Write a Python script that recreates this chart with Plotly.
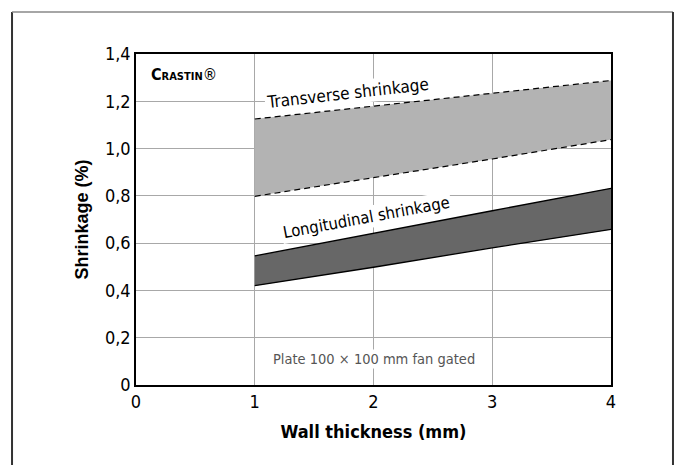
"""
Shrinkage of CRASTIN vs wall thickness, redrawn with Plotly.
"""

import plotly.graph_objects as go

# Data
thickness = [1, 2, 3, 4]
transverse_upper = [1.125, 1.181, 1.234, 1.288]
transverse_lower = [0.798, 0.876, 0.956, 1.038]
longitudinal_upper = [0.546, 0.643, 0.737, 0.832]
longitudinal_lower = [0.420, 0.498, 0.580, 0.658]

x_ticks = [0, 1, 2, 3, 4]
x_tick_labels = ['0', '1', '2', '3', '4']
y_ticks = [0, 0.2, 0.4, 0.6, 0.8, 1.0, 1.2, 1.4]
y_tick_labels = ['0', '0,2', '0,4', '0,6', '0,8', '1,0', '1,2', '1,4']

NARROW = 'DejaVu Sans Condensed, Liberation Sans Narrow, Arial Narrow, sans-serif'
SANS = 'Liberation Sans, Arial, sans-serif'

fig = go.Figure()

# Transverse band (light gray, dashed edges)
fig.add_trace(go.Scatter(
    x=thickness, y=transverse_lower, mode='lines',
    line=dict(color='black', width=1.2, dash='6px,4px'),
    hoverinfo='skip', showlegend=False,
))
fig.add_trace(go.Scatter(
    x=thickness, y=transverse_upper, mode='lines',
    line=dict(color='black', width=1.2, dash='6px,4px'),
    fill='tonexty', fillcolor='#b3b3b3',
    hoverinfo='skip', showlegend=False,
))

# Longitudinal band (dark gray, solid edges)
fig.add_trace(go.Scatter(
    x=thickness, y=longitudinal_lower, mode='lines',
    line=dict(color='black', width=1.3),
    hoverinfo='skip', showlegend=False,
))
fig.add_trace(go.Scatter(
    x=thickness, y=longitudinal_upper, mode='lines',
    line=dict(color='black', width=1.3),
    fill='tonexty', fillcolor='#676767',
    hoverinfo='skip', showlegend=False,
))

# Labels inside the plot
fig.add_annotation(
    x=1.78, y=1.236, xref='x', yref='y',
    text='Transverse shrinkage', textangle=-6.5, showarrow=False,
    font=dict(family=NARROW, size=17, color='black'),
    bgcolor='white', borderpad=1,
)
fig.add_annotation(
    x=1.94, y=0.707, xref='x', yref='y',
    text='Longitudinal shrinkage', textangle=-10.5, showarrow=False,
    font=dict(family=NARROW, size=16.5, color='black'),
    bgcolor='white', borderpad=1,
)
fig.add_annotation(
    x=2.0, y=0.112, xref='x', yref='y',
    text='Plate 100 \u00d7 100 mm fan gated', showarrow=False,
    font=dict(family=NARROW, size=14.5, color='#555555'),
    bgcolor='white', borderpad=1,
)
fig.add_annotation(
    x=0.11, y=1.312, xref='x', yref='y', xanchor='left',
    text="<b>C<span style='font-size:11px'>RASTIN</span></b>\u00ae",
    showarrow=False,
    font=dict(family=NARROW, size=16, color='black'),
)

# Outer frame of the figure
fig.add_shape(type='line', xref='paper', yref='paper',
              x0=-0.261, x1=-0.261, y0=-0.3, y1=1.127,
              line=dict(color='#333333', width=2))
fig.add_shape(type='line', xref='paper', yref='paper',
              x0=-0.261, x1=1.1305, y0=1.127, y1=1.127,
              line=dict(color='#888888', width=1.5))
fig.add_shape(type='line', xref='paper', yref='paper',
              x0=1.1305, x1=1.1305, y0=-0.3, y1=1.127,
              line=dict(color='#333333', width=2))

fig.update_layout(
    width=676, height=465,
    margin=dict(l=136, r=65, t=54, b=80),
    paper_bgcolor='white', plot_bgcolor='white',
    showlegend=False,
    font=dict(family=NARROW, color='black'),
)

fig.update_xaxes(
    range=[0, 4], tickvals=x_ticks, ticktext=x_tick_labels,
    showgrid=True, gridcolor='#a8a8a8', gridwidth=1,
    showline=True, linecolor='black', linewidth=1.5, mirror=True,
    zeroline=False, ticks='',
    tickfont=dict(family=NARROW, size=18, color='black'),
    title=dict(text='<b>Wall thickness (mm)</b>', standoff=14,
               font=dict(family=NARROW, size=18, color='black')),
)
fig.update_yaxes(
    range=[0, 1.4], tickvals=y_ticks, ticktext=y_tick_labels,
    showgrid=True, gridcolor='#a8a8a8', gridwidth=1,
    showline=True, linecolor='black', linewidth=1.5, mirror=True,
    zeroline=False, ticks='',
    tickfont=dict(family=NARROW, size=18, color='black'),
    title=dict(text='<b>Shrinkage (%)</b>', standoff=12,
               font=dict(family=SANS, size=18, color='black')),
)

# Drop the default page margin so the figure sits at the window's corner
fig.write_html(
    'out.html',
    config={'displayModeBar': False},
    post_script="document.body.style.margin='0';",
)
